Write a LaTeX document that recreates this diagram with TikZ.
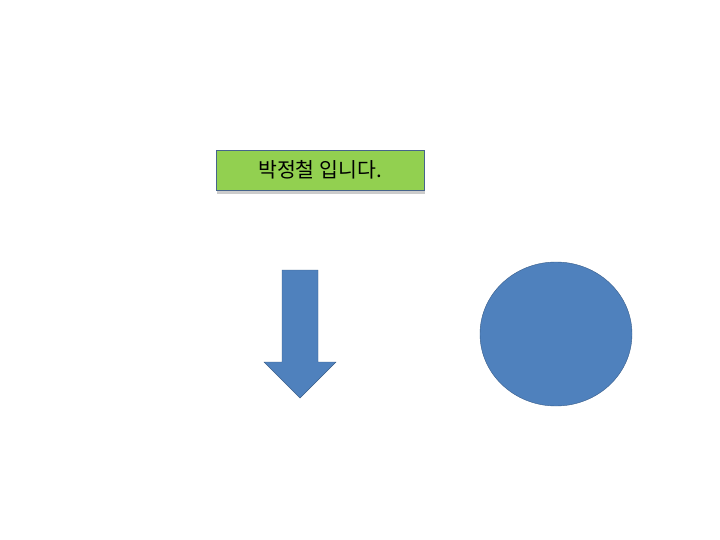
\documentclass[tikz,border=0pt]{standalone}
\usepackage{fontspec}
\newfontfamily\kofont{Noto Sans CJK KR}
\usetikzlibrary{shapes, shadows}
\definecolor{boxgreen}{RGB}{146,208,80}
\definecolor{boxline}{RGB}{70,100,140}
\definecolor{shapeblue}{RGB}{79,129,189}
\definecolor{shapeline}{RGB}{56,93,138}

\begin{document}
\begin{tikzpicture}[x=1pt, y=-1pt,
            namebox/.style={draw=boxline, fill=boxgreen, rectangle, minimum width=208pt, minimum height=40pt,
                drop shadow={shadow xshift=1pt, shadow yshift=-4pt, opacity=0.4}, font=\kofont\fontsize{20.5}{24}\selectfont},
            blueshape/.style={draw=shapeline, fill=shapeblue}]
            \useasboundingbox (0,0) rectangle (720,540);

            \node[namebox] (name) at (320,170) {박정철 입니다.};

            % block arrow pointing down
            \draw[blueshape] (282,270) -- (318,270) -- (318,362) -- (336,362) -- (300,398)
                -- (264,362) -- (282,362) -- cycle;

            \node[blueshape, ellipse, minimum width=152pt, minimum height=144pt, inner sep=0pt] (circ) at (556,334) {};
        \end{tikzpicture}
\end{document}
